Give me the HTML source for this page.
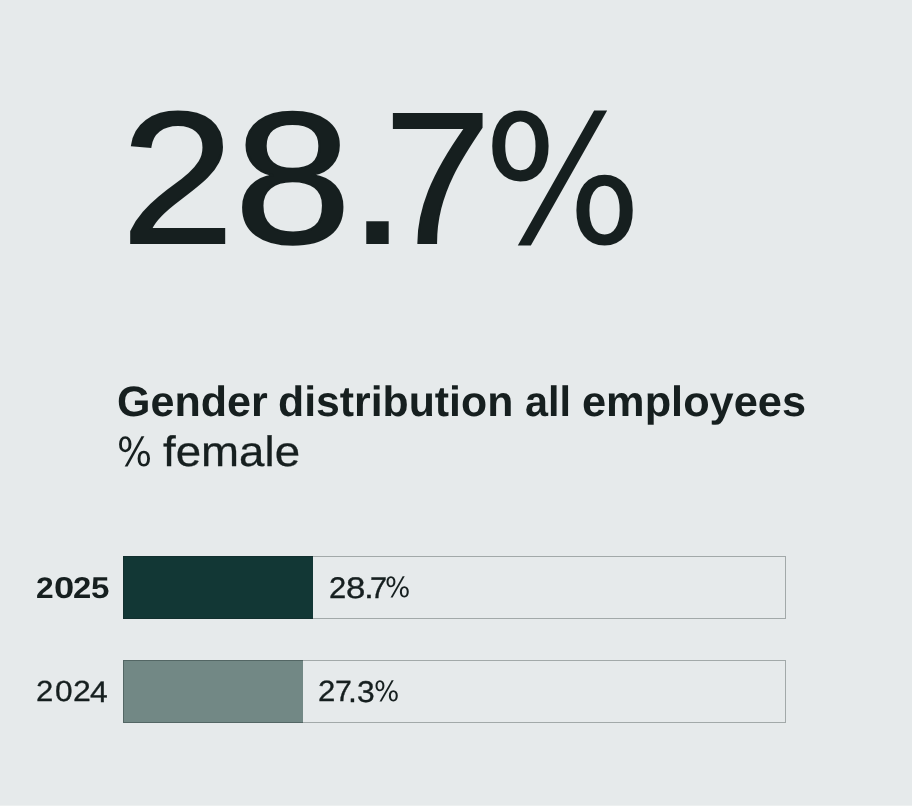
<!DOCTYPE html>
<html lang="en">
<head>
<meta charset="utf-8">
<title>Gender distribution all employees</title>
<style>
  html, body { margin: 0; padding: 0; }
  body {
    width: 912px; height: 806px; overflow: hidden; position: relative;
    background: #e6eaeb;
    font-family: "Liberation Sans", sans-serif;
    color: #161f1f;
    text-rendering: geometricPrecision;
  }
  h1, p { margin: 0; font: inherit; }
  .t { position: absolute; display: block; white-space: nowrap; line-height: 1; transform-origin: 0 0; }
  .track { position: absolute; left: 123px; width: 663px; height: 63px; }
  .track .fill { position: absolute; left: 0; top: 0; height: 63px; }
  .track .line { position: absolute; left: 0; top: 0; right: 0; bottom: 0; border: 1px solid rgba(20,30,30,0.32); box-sizing: border-box; }
  .edge { position: absolute; left: 0; right: 0; bottom: 0; height: 1px; background: #edf0f0; }
</style>
</head>
<body>
  <div class="stat"><span class="t" style="left:120.97px;top:84.22px;font-size:191px;font-weight:400;transform:scale(1.0678,0.9863);-webkit-text-stroke:2px #161f1f;">2</span><span class="t" style="left:234.27px;top:84.61px;font-size:191px;font-weight:400;transform:scale(1.1062,0.983);-webkit-text-stroke:2px #161f1f;">8</span><span class="t" style="left:347.72px;top:79.59px;font-size:191px;font-weight:400;transform:scale(1.1111,1.0137);-webkit-text-stroke:2px #161f1f;">.</span><span class="t" style="left:383.79px;top:85.37px;font-size:191px;font-weight:400;transform:scale(1.0101,0.9812);-webkit-text-stroke:2px #161f1f;">7</span><span class="t" style="left:483.39px;top:93.15px;font-size:191px;font-weight:400;transform:scale(0.8763,0.9345);font-family:'DejaVu Sans',sans-serif;">%</span></div>
  <h1><span class="t" style="left:116.95px;top:382.45px;font-size:42.5px;font-weight:700;transform:scaleX(1.0124);">Gender</span> <span class="t" style="left:278.26px;top:382.45px;font-size:42.5px;font-weight:700;transform:scaleX(1.0067);">distribution</span> <span class="t" style="left:524.82px;top:382.45px;font-size:42.5px;font-weight:700;transform:scaleX(0.9737);">all</span> <span class="t" style="left:582.29px;top:382.45px;font-size:42.5px;font-weight:700;transform:scaleX(1.0197);">employees</span></h1>
  <p><span class="t" style="left:116.6px;top:434.12px;font-size:42.5px;font-weight:400;transform:scale(0.8686,0.944);font-family:'DejaVu Sans',sans-serif;">%</span> <span class="t" style="left:163.44px;top:432.36px;font-size:42.5px;font-weight:400;transform:scaleX(1.0741);-webkit-text-stroke:0.3px #161f1f;">female</span></p>

  <div class="row">
    <span class="t" style="left:35.54px;top:574.12px;font-size:30px;font-weight:700;transform:scale(1.0596,0.9951);">2</span><span class="t" style="left:53.58px;top:573.69px;font-size:30px;font-weight:700;transform:scale(1.2117,1.0066);">0</span><span class="t" style="left:73.12px;top:573.67px;font-size:30px;font-weight:700;transform:scale(1.0955,1.0009);">2</span><span class="t" style="left:90.89px;top:574.12px;font-size:30px;font-weight:700;transform:scale(1.1053,1.003);">5</span>
    <div class="track" style="top:556px"><div class="fill" style="width:190px;background:#123735"></div><div class="line"></div></div>
    <span class="t" style="left:328.94px;top:573.77px;font-size:30px;font-weight:400;transform:scale(1.0324,0.9982);-webkit-text-stroke:0.35px #161f1f;">2</span><span class="t" style="left:346.2px;top:574.04px;font-size:30px;font-weight:400;transform:scale(1.1605,0.9881);-webkit-text-stroke:0.35px #161f1f;">8</span><span class="t" style="left:364.34px;top:574.59px;font-size:30px;font-weight:400;transform:scale(1.1868,0.9706);-webkit-text-stroke:0.35px #161f1f;">.</span><span class="t" style="left:369.95px;top:573.58px;font-size:30px;font-weight:400;transform:scale(1.0228,0.992);-webkit-text-stroke:0.35px #161f1f;">7</span><span class="t" style="left:384.71px;top:575.35px;font-size:30px;font-weight:400;transform:scale(0.887,0.9346);font-family:'DejaVu Sans',sans-serif;">%</span>
  </div>
  <div class="row">
    <span class="t" style="left:36.2px;top:678.28px;font-size:30px;font-weight:400;transform:scale(1.0359,0.9698);-webkit-text-stroke:0.35px #161f1f;">2</span><span class="t" style="left:54.59px;top:678.09px;font-size:30px;font-weight:400;transform:scale(1.0543,0.9729);-webkit-text-stroke:0.35px #161f1f;">0</span><span class="t" style="left:72.87px;top:678.47px;font-size:30px;font-weight:400;transform:scale(1.0687,0.9701);-webkit-text-stroke:0.35px #161f1f;">2</span><span class="t" style="left:89.63px;top:678.15px;font-size:30px;font-weight:400;transform:scale(1.0623,0.9835);-webkit-text-stroke:0.35px #161f1f;">4</span>
    <div class="track" style="top:660px"><div class="fill" style="width:180px;background:#728885"></div><div class="line"></div></div>
    <span class="t" style="left:318.3px;top:678.07px;font-size:30px;font-weight:400;transform:scale(1.0395,0.9744);-webkit-text-stroke:0.35px #161f1f;">2</span><span class="t" style="left:335.39px;top:678.27px;font-size:30px;font-weight:400;transform:scale(1.0112,0.9782);-webkit-text-stroke:0.35px #161f1f;">7</span><span class="t" style="left:348.02px;top:677.87px;font-size:30px;font-weight:400;transform:scale(1.0688,0.997);-webkit-text-stroke:0.35px #161f1f;">.</span><span class="t" style="left:356.51px;top:677.82px;font-size:30px;font-weight:400;transform:scale(1.0608,1.0011);-webkit-text-stroke:0.35px #161f1f;">3</span><span class="t" style="left:373.71px;top:679.35px;font-size:30px;font-weight:400;transform:scale(0.887,0.9346);font-family:'DejaVu Sans',sans-serif;">%</span>
  </div>
  <div class="edge"></div>
</body>
</html>
